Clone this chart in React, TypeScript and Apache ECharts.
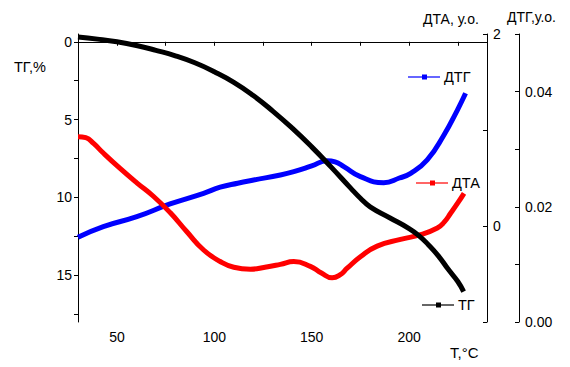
import React, { useEffect, useRef } from "react";
import * as echarts from "echarts";

// Temperature (°C) and values
const tgT = [30, 40, 50, 60, 70, 80, 90, 100, 110, 120, 130, 140, 150, 160, 170, 175, 180, 190, 200, 205, 210, 215, 220, 225, 228];
const tgV = [-0.3, -0.17, 0.0, 0.24, 0.55, 0.9, 1.35, 1.92, 2.6, 3.45, 4.45, 5.55, 6.75, 8.05, 9.4, 10.05, 10.6, 11.3, 12.0, 12.45, 13.05, 13.75, 14.6, 15.4, 16.05];

const dtaT = [30, 34, 38, 43, 51.6, 60.2, 68.7, 77.3, 85.9, 94.5, 103, 110, 118.5, 126, 133.9, 140.8, 149.3, 155, 160.5, 164.5, 168.2, 175, 183.6, 195.6, 205.9, 214.5, 218, 221.4, 225, 228.2];
const dtaV = [0.93, 0.92, 0.86, 0.76, 0.6, 0.45, 0.31, 0.14, -0.06, -0.25, -0.37, -0.43, -0.45, -0.43, -0.4, -0.37, -0.42, -0.49, -0.54, -0.51, -0.44, -0.32, -0.21, -0.14, -0.09, -0.02, 0.04, 0.135, 0.24, 0.34];

const dtgT = [30, 43, 60.2, 77.3, 94.5, 103, 112, 120.2, 133.9, 140.8, 150, 157.9, 162, 166.5, 175, 187, 195, 200.8, 209.3, 217.9, 224.8, 229];
const dtgV = [0.0147, 0.01655, 0.01828, 0.02049, 0.02234, 0.0234, 0.0241, 0.02465, 0.02552, 0.0261, 0.0271, 0.028, 0.0278, 0.02697, 0.02523, 0.02418, 0.025, 0.02581, 0.02813, 0.03247, 0.0368, 0.0397];

const xLabels = [50, 100, 150, 200];
const xTicks = [50, 75, 100, 125, 150, 175, 200, 225];
const tgLabels = [0, 5, 10, 15];
const tgTicks = [0, 2.5, 5, 7.5, 10, 12.5, 15, 17.5];
const dtaLabels = [0, 2];
const dtaTicks = [-1, 0, 1, 2];
const dtgLabels = [0, 0.02, 0.04];
const dtgTicks = [0, 0.01, 0.02, 0.03, 0.04, 0.05];

const seriesNames = ["ТГ", "ДТА", "ДТГ"];
const colors = ["#000000", "#ff0000", "#0000ff"];

const FONT = "Liberation Sans, Arial, sans-serif";

function pairs(xs: number[], ys: number[]) {
  return xs.map((x, i) => [x, ys[i]]);
}

function legendItem(x: number, y: number, color: string, label: string) {
  return [
    { type: "line", shape: { x1: x, y1: y, x2: x + 32, y2: y }, style: { stroke: color, lineWidth: 2, opacity: 0.6 } },
    { type: "rect", shape: { x: x + 14, y: y - 2.5, width: 5, height: 5 }, style: { fill: color } },
    { type: "text", x: x + 36, y: y, style: { text: label, fill: "#000", font: `14.5px ${FONT}`, textVerticalAlign: "middle" } },
  ];
}

export default function App() {
  const ref = useRef<HTMLDivElement>(null);
  useEffect(() => {
    if (!ref.current) return;
    const chart = echarts.init(ref.current, null, { renderer: "svg" });
    const axisCommon = {
      axisLine: { show: true, lineStyle: { color: "#000", width: 1 } },
      splitLine: { show: false },
      axisLabel: { color: "#000", fontSize: 14, fontFamily: FONT, margin: 6 },
    };
    const lineCommon = { type: "line", smooth: 0.5, showSymbol: false };
    chart.setOption({
      animation: false,
      backgroundColor: "#fff",
      grid: { left: 78, right: 83, top: 34, bottom: 45, containLabel: false },
      xAxis: {
        type: "value",
        min: 30,
        max: 240,
        ...axisCommon,
        axisTick: { show: true, length: 4, inside: false, customValues: xTicks, lineStyle: { color: "#000" } },
        axisLabel: { ...axisCommon.axisLabel, margin: 8, customValues: xLabels },
      },
      yAxis: [
        {
          type: "value",
          inverse: true,
          min: -0.5,
          max: 18,
          position: "left",
          ...axisCommon,
          axisTick: { show: true, length: 4, inside: false, customValues: tgTicks, lineStyle: { color: "#000" } },
          axisLabel: { ...axisCommon.axisLabel, customValues: tgLabels },
        },
        {
          type: "value",
          min: -1,
          max: 2,
          position: "right",
          offset: 0,
          ...axisCommon,
          axisTick: { show: true, length: 4, inside: true, customValues: dtaTicks, lineStyle: { color: "#000" } },
          axisLabel: { ...axisCommon.axisLabel, customValues: dtaLabels },
        },
        {
          type: "value",
          min: 0,
          max: 0.05,
          position: "right",
          offset: 32,
          ...axisCommon,
          axisTick: { show: true, length: 4, inside: true, customValues: dtgTicks, lineStyle: { color: "#000" } },
          axisLabel: { ...axisCommon.axisLabel, customValues: dtgLabels, formatter: (v: number) => v.toFixed(2) },
        },
      ],
      series: [
        {
          ...lineCommon, name: seriesNames[2], yAxisIndex: 2,
          data: pairs(dtgT, dtgV), lineStyle: { color: colors[2], width: 5 }, itemStyle: { color: colors[2] },
        },
        {
          ...lineCommon, name: seriesNames[1], yAxisIndex: 1,
          data: pairs(dtaT, dtaV), lineStyle: { color: colors[1], width: 5 }, itemStyle: { color: colors[1] },
        },
        {
          ...lineCommon, name: seriesNames[0], yAxisIndex: 0,
          data: pairs(tgT, tgV), lineStyle: { color: colors[0], width: 5 }, itemStyle: { color: colors[0] },
        },
      ],
      graphic: [
        { type: "text", x: 14, y: 67, style: { text: "ТГ,%", fill: "#000", font: `14.5px ${FONT}`, textVerticalAlign: "middle" } },
        { type: "text", x: 423, y: 19, style: { text: "ДТА, у.о.", fill: "#000", font: `14px ${FONT}`, textVerticalAlign: "middle" } },
        { type: "text", x: 507, y: 17, style: { text: "ДТГ,у.о.", fill: "#000", font: `14px ${FONT}`, textVerticalAlign: "middle" } },
        { type: "text", x: 450, y: 352, style: { text: "T,°C", fill: "#000", font: `15px ${FONT}`, textVerticalAlign: "middle" } },
        ...legendItem(408, 77, colors[2], seriesNames[2]),
        ...legendItem(416, 183, colors[1], seriesNames[1]),
        ...legendItem(422, 305, colors[0], seriesNames[0]),
      ],
    });
    return () => chart.dispose();
  }, []);
  return <div ref={ref} style={{ position: "fixed", left: 0, top: 0, width: 570, height: 367 }} />;
}
